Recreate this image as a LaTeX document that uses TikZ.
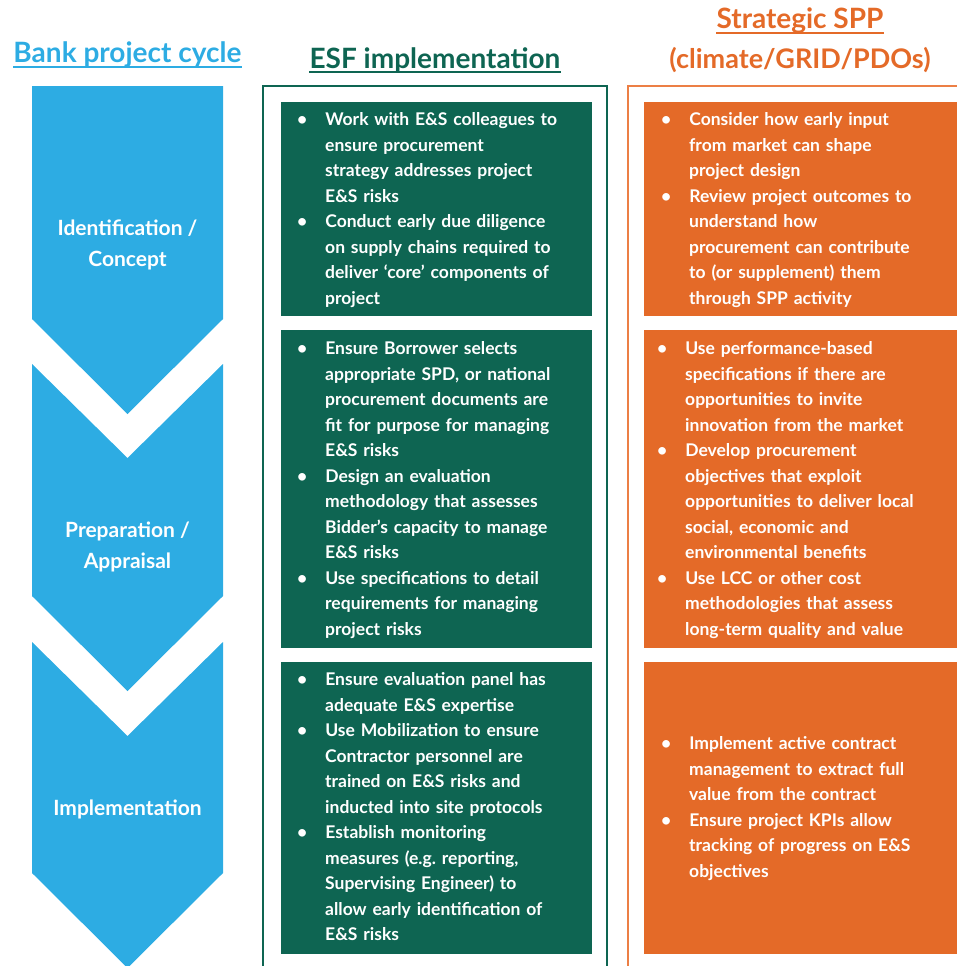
\documentclass[tikz,border=0pt]{standalone}
\usepackage{fontspec}
\setmainfont{Lato}
\usepackage{enumitem}
\definecolor{bankblue}{HTML}{2DACE3}
\definecolor{esfgreen}{HTML}{0E6552}
\definecolor{spporange}{HTML}{E46A28}
\definecolor{sppline}{HTML}{EC7F45}
\setlist[itemize]{label=\strut\textbullet, align=left, labelindent=0pt, labelwidth=10pt, labelsep=18pt, leftmargin=28pt, itemsep=0pt, topsep=0pt, parsep=0pt, partopsep=0pt}
\tikzset{
  head/.style={anchor=base, inner sep=0pt, font=\fontsize{28}{34}\selectfont\bfseries},
  stagelabel/.style={text=white, align=center, inner sep=0pt, font=\fontsize{21}{31}\selectfont\bfseries},
  esfbox/.style={fill=esfgreen, anchor=north west, minimum width=311, inner sep=0pt},
  sppbox/.style={fill=spporange, anchor=north west, minimum width=330, inner sep=0pt},
  boxtext/.style={anchor=north west, inner sep=0pt, text=white, text width=300pt, align=left, font=\fontsize{17.5}{25.5}\selectfont\bfseries}
}
\begin{document}
\begin{tikzpicture}[x=1pt,y=-1pt]
  \useasboundingbox (0,0) rectangle (957,966);

  % headings
  \node[head, text=bankblue] (bankhead) at (127.5,63) {Bank project cycle};
  \node[head, text=esfgreen] (esfhead) at (435,68) {ESF implementation};
  \node[head, text=spporange] (spphead) at (800,29) {Strategic SPP};
  \node[head, text=spporange, font=\fontsize{27}{34}\selectfont\bfseries] (sppsub) at (800,68) {(climate/GRID/PDOs)};
  \draw[bankblue, line width=2pt] ([yshift=-4pt]bankhead.base west) -- ([yshift=-4pt]bankhead.base east);
  \draw[esfgreen, line width=2pt] ([yshift=-4pt]esfhead.base west) -- ([yshift=-4pt]esfhead.base east);
  \draw[spporange, line width=2pt] ([yshift=-4pt]spphead.base west) -- ([yshift=-4pt]spphead.base east);

  % project cycle chevrons
  \fill[bankblue] (32,86) -- (223,86) -- (223,319) -- (127.5,414) -- (32,319) -- cycle;
  \fill[bankblue] (32,364) -- (127.5,458) -- (223,364) -- (223,596) -- (127.5,691) -- (32,596) -- cycle;
  \fill[bankblue] (32,642) -- (127.5,736) -- (223,642) -- (223,873) -- (127.5,968) -- (32,873) -- cycle;
  \node[stagelabel] (ident) at (127.5,244.3) {\strut Identification /\\\strut Concept};
  \node[stagelabel] (prep) at (127.5,546.3) {\strut Preparation /\\\strut Appraisal};
  \node[stagelabel] (impl) at (127.5,808.8) {\strut Implementation};

  % column frames
  \draw[esfgreen, line width=2pt] (263,86) rectangle (607,985);
  \draw[sppline, line width=2pt] (628,86) rectangle (985,985);

  % ESF column
  \node[esfbox, minimum height=214] (esf1) at (281,102) {};
  \node[esfbox, minimum height=318] (esf2) at (281,330) {};
  \node[esfbox, minimum height=292] (esf3) at (281,662) {};
  \node[boxtext] (esf1text) at ([shift={(16,-2)}]esf1.north west) {\begin{itemize}
    \item Work with E\&S colleagues to\newline ensure procurement\newline strategy addresses project\newline E\&S risks
    \item Conduct early due diligence\newline on supply chains required to\newline deliver ‘core’ components of\newline project
  \end{itemize}};
  \node[boxtext] (esf2text) at ([shift={(16,-1)}]esf2.north west) {\begin{itemize}
    \item Ensure Borrower selects\newline appropriate SPD, or national\newline procurement documents are\newline fit for purpose for managing\newline E\&S risks
    \item Design an evaluation\newline methodology that assesses\newline Bidder’s capacity to manage\newline E\&S risks
    \item Use specifications to detail\newline requirements for managing\newline project risks
  \end{itemize}};
  \node[boxtext] (esf3text) at ([shift={(16,-2)}]esf3.north west) {\begin{itemize}
    \item Ensure evaluation panel has\newline adequate E\&S expertise
    \item Use Mobilization to ensure\newline Contractor personnel are\newline trained on E\&S risks and\newline inducted into site protocols
    \item Establish monitoring\newline measures (e.g.\ reporting,\newline Supervising Engineer) to\newline allow early identification of\newline E\&S risks
  \end{itemize}};

  % strategic SPP column
  \node[sppbox, minimum height=214] (spp1) at (644,102) {};
  \node[sppbox, minimum height=318] (spp2) at (644,330) {};
  \node[sppbox, minimum height=292] (spp3) at (644,662) {};
  \node[boxtext] (spp1text) at ([shift={(17,-2)}]spp1.north west) {\begin{itemize}
    \item Consider how early input\newline from market can shape\newline project design
    \item Review project outcomes to\newline understand how\newline procurement can contribute\newline to (or supplement) them\newline through SPP activity
  \end{itemize}};
  \node[boxtext] (spp2text) at ([shift={(13,-1)}]spp2.north west) {\begin{itemize}
    \item Use performance-based\newline specifications if there are\newline opportunities to invite\newline innovation from the market
    \item Develop procurement\newline objectives that exploit\newline opportunities to deliver local\newline social, economic and\newline environmental benefits
    \item Use LCC or other cost\newline methodologies that assess\newline long-term quality and value
  \end{itemize}};
  \node[boxtext] (spp3text) at ([shift={(17,62)}]spp3.north west) {\begin{itemize}
    \item Implement active contract\newline management to extract full\newline value from the contract
    \item Ensure project KPIs allow\newline tracking of progress on E\&S\newline objectives
  \end{itemize}};
\end{tikzpicture}
\end{document}
